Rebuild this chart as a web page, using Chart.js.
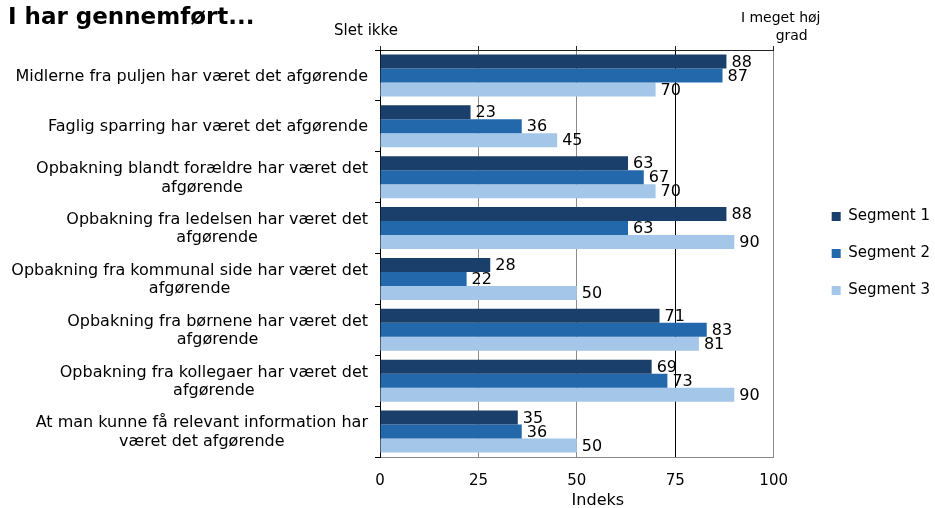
<!DOCTYPE html>
<html><head><meta charset="utf-8">
<script src="https://cdn.jsdelivr.net/npm/chart.js@4.4.1/dist/chart.umd.min.js"></script>
<style>html,body{margin:0;padding:0;background:#fff}canvas{display:block}</style>
</head><body>
<canvas id="c" width="935" height="508"></canvas>
<script>
const categories = [
  ["Midlerne fra puljen har været det afgørende"],
  ["Faglig sparring har været det afgørende"],
  ["Opbakning blandt forældre har været det", "afgørende"],
  ["Opbakning fra ledelsen har været det", "afgørende"],
  ["Opbakning fra kommunal side har været det", "afgørende"],
  ["Opbakning fra børnene har været det", "afgørende"],
  ["Opbakning fra kollegaer har været det", "afgørende"],
  ["At man kunne få relevant information har", "været det afgørende"]
];
const seriesNames = ["Segment 1", "Segment 2", "Segment 3"];
const segment1 = [88, 23, 63, 88, 28, 71, 69, 35];
const segment2 = [87, 36, 67, 63, 22, 83, 73, 36];
const segment3 = [70, 45, 70, 90, 50, 81, 90, 50];
const xTickValues = [0, 25, 50, 75, 100];
const chartTitle = "I har gennemført...";
const axisTitle = "Indeks";
const lowEndLabel = ["Slet ikke"];
const highEndLabel = ["I meget høj", "grad"];

const FONT = "'DejaVu Sans', Verdana, sans-serif";
Chart.defaults.font.family = FONT;
Chart.defaults.color = '#000';

const colors = ['#1a3f6b', '#2468ac', '#a3c6e9'];
const seriesValues = [segment1, segment2, segment3];

const labelPlugin = {
  id: 'customText',
  afterDraw(chart) {
    const ctx = chart.ctx;
    const ca = chart.chartArea;
    const y = chart.scales.y;
    const x = chart.scales.x;
    const x2 = chart.scales.x2;
    ctx.save();
    // title
    ctx.fillStyle = '#000';
    ctx.font = "bold 23px " + FONT;
    ctx.textAlign = 'left';
    ctx.textBaseline = 'middle';
    ctx.fillText(chartTitle, 8, 18);
    // category labels
    ctx.font = "16px " + FONT;
    const lh = 18.5;
    categories.forEach((lines, i) => {
      const cy = y.getPixelForValue(i);
      const widest = Math.max(...lines.map(l => ctx.measureText(l).width));
      const right = ca.left - 12;
      const cx = right - widest / 2;
      ctx.textAlign = 'center';
      const y0 = cy - (lines.length - 1) * lh / 2 + 1;
      lines.forEach((l, k) => ctx.fillText(l, cx, y0 + k * lh));
    });
    // axis title
    ctx.font = "16px " + FONT;
    ctx.textAlign = 'center';
    ctx.fillText(axisTitle, x.getPixelForValue(xTickValues[2]) + 21, ca.bottom + 44);
    // end labels above top axis
    ctx.font = "15px " + FONT;
    ctx.fillText(lowEndLabel[0], x2.getPixelForValue(xTickValues[0]) - 14, 31);
    ctx.font = "14px " + FONT;
    ctx.fillText(highEndLabel[0], x2.getPixelForValue(xTickValues[4]) + 7, 18);
    ctx.fillText(highEndLabel[1], x2.getPixelForValue(xTickValues[4]) + 18, 36);
    ctx.restore();
  },
  afterDatasetsDraw(chart) {
    const ctx = chart.ctx;
    ctx.save();
    ctx.font = "16px " + FONT;
    ctx.fillStyle = '#000';
    ctx.textAlign = 'left';
    ctx.textBaseline = 'middle';
    chart.data.datasets.forEach((ds, di) => {
      const meta = chart.getDatasetMeta(di);
      meta.data.forEach((bar, i) => {
        ctx.fillText(String(ds.data[i]), bar.x + 5, bar.y + 1);
      });
    });
    ctx.restore();
  }
};

new Chart(document.getElementById('c'), {
  type: 'bar',
  data: {
    labels: categories.map(c => c.join(' ')),
    datasets: seriesNames.map((n, i) => ({
      label: n,
      data: seriesValues[i],
      backgroundColor: colors[i],
      borderWidth: 0,
      barPercentage: 1,
      categoryPercentage: 0.825
    }))
  },
  options: {
    indexAxis: 'y',
    responsive: false,
    animation: false,
    devicePixelRatio: 1,
    layout: { padding: { left: 375, top: 46, right: -5, bottom: 0 } },
    plugins: {
      legend: {
        position: 'right',
        fullSize: false,
        maxWidth: 300,
        labels: {
          boxWidth: 9, boxHeight: 9, padding: 22,
          font: { size: 15 }, color: '#000'
        }
      },
      tooltip: { enabled: false }
    },
    scales: {
      x: {
        position: 'bottom',
        min: 0, max: 100,
        afterBuildTicks(s) { s.ticks = xTickValues.map(v => ({ value: v })); },
        ticks: { font: { size: 15 }, color: '#000', padding: 15 },
        grid: {
          drawTicks: false,
          color: c => c.tick && c.tick.value === 75 ? '#000' : (c.tick && c.tick.value === 0 ? 'rgba(0,0,0,0)' : '#8a8a8a'),
          lineWidth: 1
        },
        border: { display: true, color: '#8a8a8a', width: 1 },
        title: { display: false },
        afterFit(s) { s.height = 51; }
      },
      x2: {
        position: 'top',
        axis: 'x',
        min: 0, max: 100,
        afterBuildTicks(s) { s.ticks = xTickValues.map(v => ({ value: v })); },
        ticks: { display: false },
        grid: { drawOnChartArea: false, drawTicks: true, tickLength: 4, color: '#222' },
        border: { display: true, color: '#222', width: 1 },
        afterFit(s) { s.height = 4; }
      },
      y: {
        position: 'left',
        ticks: { display: false },
        grid: { drawOnChartArea: false, drawTicks: true, tickLength: 5, offset: true, color: '#000' },
        border: { display: true, color: '#000', width: 1 },
        afterFit(s) { s.width = 5; }
      },
      gap: {
        type: 'linear',
        position: 'right',
        axis: 'y',
        display: true,
        ticks: { display: false },
        grid: { display: false },
        border: { display: false },
        afterFit(s) { s.width = 36; }
      }
    }
  },
  plugins: [labelPlugin]
});
</script>
</body></html>
